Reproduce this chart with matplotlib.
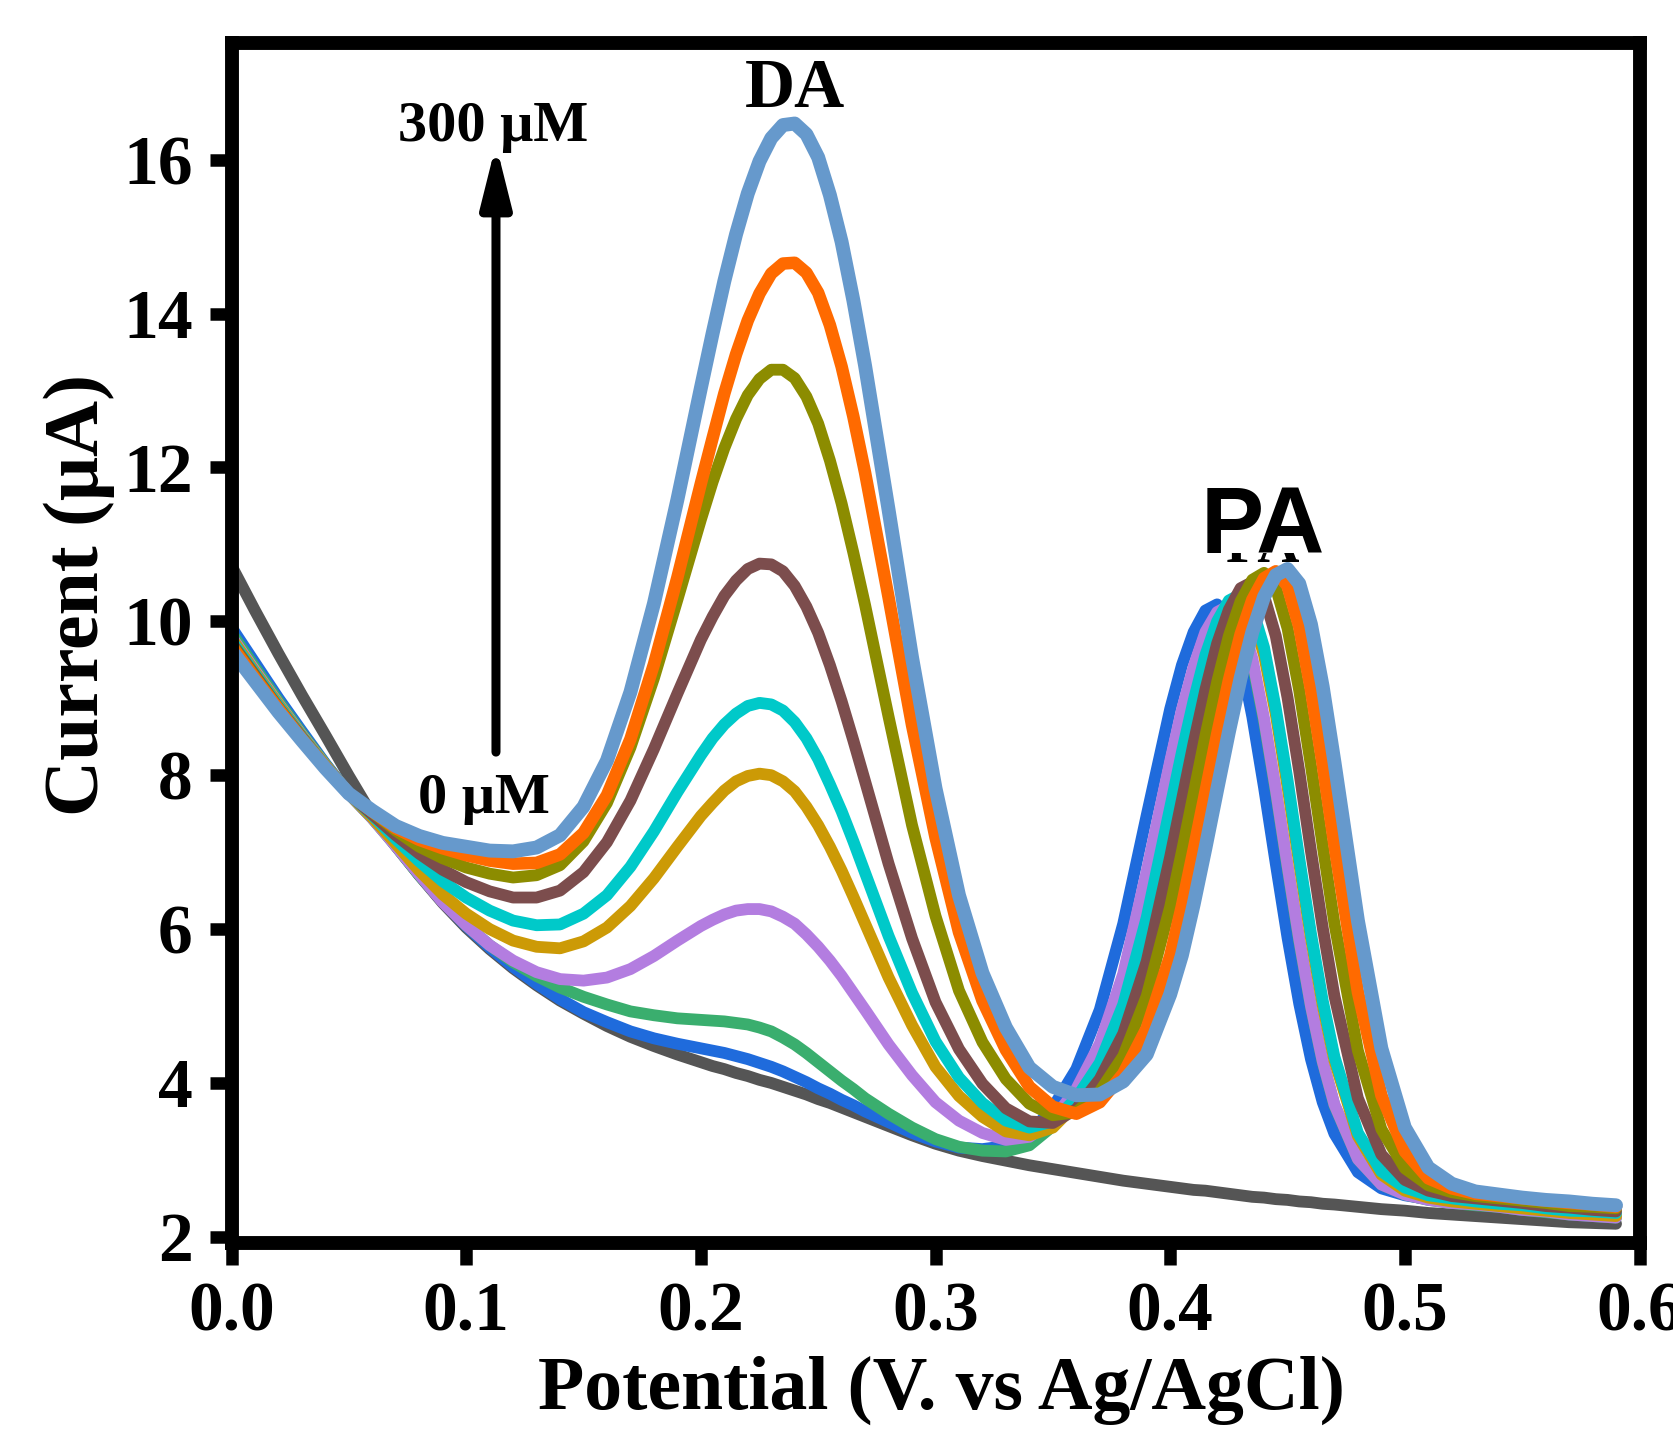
import matplotlib
matplotlib.use("Agg")
import matplotlib.pyplot as plt
from matplotlib.patches import Rectangle

# Sampled potential (V vs Ag/AgCl); finer sampling across the two peak tops
potential = [0.00, 0.01, 0.02, 0.03, 0.04, 0.05, 0.06, 0.07, 0.08, 0.09,
             0.10, 0.11, 0.12, 0.13, 0.14, 0.15, 0.16, 0.17, 0.18, 0.19,
             0.20, 0.205, 0.21, 0.215, 0.22, 0.225, 0.23, 0.235, 0.24, 0.245,
             0.25, 0.255, 0.26, 0.265, 0.27, 0.28, 0.29, 0.30, 0.31, 0.32,
             0.33, 0.34, 0.35, 0.36, 0.37, 0.38, 0.39, 0.40, 0.405, 0.41,
             0.415, 0.42, 0.425, 0.43, 0.435, 0.44, 0.445, 0.45, 0.455, 0.46,
             0.465, 0.47, 0.48, 0.49, 0.50, 0.51, 0.52, 0.53, 0.54, 0.55,
             0.56, 0.57, 0.58, 0.59]

# DPV currents (uA), from blank up to the highest DA addition
i_blank = [10.72, 10.14, 9.58, 9.04, 8.52, 7.99, 7.48, 7.08, 6.70, 6.34,
           6.02, 5.74, 5.49, 5.27, 5.07, 4.90, 4.74, 4.60, 4.48, 4.37,
           4.27, 4.22, 4.18, 4.13, 4.09, 4.04, 4.00, 3.95, 3.90, 3.85,
           3.79, 3.74, 3.68, 3.62, 3.56, 3.44, 3.32, 3.21, 3.12, 3.05,
           2.99, 2.93, 2.88, 2.83, 2.78, 2.73, 2.69, 2.65, 2.63, 2.61,
           2.60, 2.58, 2.56, 2.54, 2.52, 2.51, 2.49, 2.48, 2.46, 2.45,
           2.43, 2.42, 2.39, 2.36, 2.34, 2.31, 2.29, 2.27, 2.25, 2.23,
           2.21, 2.19, 2.18, 2.17]

i_pa = [9.92, 9.46, 9.00, 8.57, 8.15, 7.76, 7.44, 7.10, 6.72, 6.36,
        6.04, 5.76, 5.51, 5.29, 5.09, 4.92, 4.79, 4.67, 4.58, 4.51,
        4.45, 4.42, 4.39, 4.35, 4.31, 4.26, 4.21, 4.15, 4.08, 4.01,
        3.93, 3.86, 3.78, 3.71, 3.63, 3.49, 3.35, 3.24, 3.16, 3.14,
        3.18, 3.34, 3.68, 4.18, 4.95, 6.07, 7.48, 8.86, 9.43, 9.86,
        10.14, 10.22, 10.04, 9.53, 8.76, 7.84, 6.85, 5.89, 5.03, 4.31,
        3.75, 3.34, 2.84, 2.63, 2.54, 2.49, 2.46, 2.43, 2.40, 2.36,
        2.34, 2.31, 2.29, 2.27]

i_da1 = [9.85, 9.40, 8.96, 8.54, 8.14, 7.76, 7.44, 7.08, 6.70, 6.36,
         6.05, 5.79, 5.57, 5.39, 5.24, 5.12, 5.02, 4.93, 4.88, 4.84,
         4.82, 4.81, 4.80, 4.78, 4.76, 4.72, 4.67, 4.59, 4.50, 4.39,
         4.27, 4.15, 4.03, 3.92, 3.80, 3.60, 3.42, 3.27, 3.17, 3.12,
         3.11, 3.19, 3.44, 3.86, 4.47, 5.38, 6.71, 8.13, 8.79, 9.37,
         9.80, 10.07, 10.15, 9.97, 9.47, 8.70, 7.79, 6.80, 5.84, 4.99,
         4.27, 3.71, 3.01, 2.68, 2.55, 2.48, 2.44, 2.41, 2.39, 2.35,
         2.32, 2.29, 2.27, 2.25]

i_da2 = [9.80, 9.36, 8.93, 8.52, 8.13, 7.76, 7.44, 7.08, 6.71, 6.35,
         6.05, 5.79, 5.59, 5.44, 5.35, 5.33, 5.37, 5.48, 5.65, 5.85,
         6.04, 6.12, 6.19, 6.24, 6.26, 6.26, 6.23, 6.16, 6.07, 5.93,
         5.77, 5.59, 5.39, 5.17, 4.95, 4.50, 4.10, 3.75, 3.51, 3.35,
         3.26, 3.30, 3.52, 3.92, 4.51, 5.42, 6.75, 8.18, 8.85, 9.41,
         9.86, 10.12, 10.20, 10.02, 9.52, 8.74, 7.82, 6.83, 5.87, 5.00,
         4.28, 3.72, 3.01, 2.68, 2.55, 2.48, 2.44, 2.42, 2.39, 2.35,
         2.33, 2.29, 2.27, 2.25]

i_da3 = [9.78, 9.34, 8.92, 8.51, 8.13, 7.76, 7.45, 7.11, 6.76, 6.45,
         6.20, 6.00, 5.85, 5.77, 5.75, 5.84, 6.02, 6.30, 6.66, 7.07,
         7.47, 7.64, 7.80, 7.92, 7.99, 8.02, 8.00, 7.92, 7.79, 7.59,
         7.35, 7.07, 6.76, 6.42, 6.07, 5.37, 4.75, 4.21, 3.83, 3.56,
         3.37, 3.32, 3.42, 3.73, 4.20, 4.96, 6.08, 7.50, 8.21, 8.88,
         9.47, 9.90, 10.17, 10.25, 10.07, 9.56, 8.79, 7.85, 6.85, 5.88,
         5.01, 4.29, 3.31, 2.81, 2.60, 2.51, 2.46, 2.43, 2.40, 2.37,
         2.34, 2.31, 2.29, 2.27]

i_da4 = [9.75, 9.32, 8.90, 8.50, 8.12, 7.76, 7.48, 7.17, 6.88, 6.62,
         6.41, 6.24, 6.11, 6.05, 6.06, 6.20, 6.44, 6.81, 7.27, 7.78,
         8.26, 8.48, 8.66, 8.80, 8.90, 8.94, 8.92, 8.84, 8.69, 8.48,
         8.21, 7.88, 7.53, 7.14, 6.73, 5.91, 5.17, 4.54, 4.07, 3.74,
         3.51, 3.42, 3.50, 3.80, 4.26, 5.02, 6.15, 7.58, 8.30, 8.97,
         9.56, 10.00, 10.27, 10.35, 10.17, 9.66, 8.87, 7.94, 6.92, 5.94,
         5.07, 4.34, 3.35, 2.85, 2.64, 2.54, 2.50, 2.46, 2.43, 2.41,
         2.37, 2.34, 2.33, 2.31]

i_da5 = [9.72, 9.30, 8.88, 8.49, 8.11, 7.76, 7.49, 7.22, 6.98, 6.77,
         6.61, 6.49, 6.41, 6.41, 6.50, 6.74, 7.13, 7.67, 8.34, 9.06,
         9.76, 10.06, 10.33, 10.53, 10.68, 10.75, 10.74, 10.65, 10.46, 10.19,
         9.85, 9.43, 8.96, 8.45, 7.92, 6.85, 5.88, 5.05, 4.44, 3.99,
         3.67, 3.50, 3.48, 3.66, 4.05, 4.64, 5.58, 6.94, 7.68, 8.42,
         9.11, 9.71, 10.15, 10.43, 10.51, 10.33, 9.81, 9.01, 8.05, 7.01,
         6.02, 5.13, 3.80, 3.07, 2.74, 2.60, 2.53, 2.50, 2.47, 2.44,
         2.40, 2.38, 2.35, 2.33]

i_da6 = [9.70, 9.28, 8.87, 8.48, 8.11, 7.76, 7.52, 7.28, 7.07, 6.92,
         6.80, 6.72, 6.67, 6.70, 6.83, 7.14, 7.64, 8.36, 9.26, 10.28,
         11.32, 11.81, 12.25, 12.63, 12.94, 13.15, 13.27, 13.27, 13.16, 12.92,
         12.57, 12.09, 11.53, 10.89, 10.21, 8.76, 7.35, 6.17, 5.20, 4.53,
         4.05, 3.73, 3.58, 3.62, 3.89, 4.35, 5.13, 6.29, 7.01, 7.76,
         8.51, 9.21, 9.81, 10.26, 10.54, 10.63, 10.44, 9.91, 9.10, 8.12,
         7.08, 6.07, 4.42, 3.40, 2.89, 2.67, 2.58, 2.53, 2.50, 2.47,
         2.44, 2.40, 2.39, 2.37]

i_da7 = [9.68, 9.26, 8.86, 8.47, 8.11, 7.76, 7.53, 7.31, 7.16, 7.05,
         6.96, 6.89, 6.85, 6.86, 6.97, 7.25, 7.74, 8.47, 9.44, 10.57,
         11.79, 12.38, 12.96, 13.47, 13.91, 14.26, 14.52, 14.65, 14.66, 14.53,
         14.27, 13.85, 13.31, 12.66, 11.93, 10.31, 8.65, 7.19, 5.96, 5.07,
         4.43, 3.95, 3.69, 3.60, 3.75, 4.12, 4.71, 5.65, 6.30, 7.03,
         7.78, 8.53, 9.23, 9.83, 10.28, 10.56, 10.65, 10.46, 9.93, 9.11,
         8.14, 7.09, 5.18, 3.84, 3.11, 2.76, 2.63, 2.56, 2.53, 2.50,
         2.47, 2.44, 2.42, 2.39]

i_da8 = [9.62, 9.22, 8.82, 8.45, 8.09, 7.76, 7.54, 7.34, 7.21, 7.12,
         7.07, 7.02, 7.01, 7.06, 7.22, 7.59, 8.19, 9.08, 10.23, 11.58,
         13.03, 13.74, 14.42, 15.03, 15.56, 15.98, 16.28, 16.45, 16.47, 16.33,
         16.03, 15.54, 14.93, 14.17, 13.32, 11.45, 9.53, 7.83, 6.44, 5.43,
         4.72, 4.20, 3.95, 3.84, 3.85, 4.02, 4.37, 5.15, 5.66, 6.32,
         7.05, 7.81, 8.56, 9.26, 9.86, 10.32, 10.60, 10.68, 10.49, 9.96,
         9.15, 8.17, 6.11, 4.45, 3.42, 2.90, 2.69, 2.59, 2.55, 2.51,
         2.48, 2.46, 2.43, 2.41]

series = [i_blank, i_pa, i_da1, i_da2, i_da3, i_da4, i_da5, i_da6, i_da7, i_da8]
colors = ["#555555", "#1f6bdc", "#3aae6e", "#b37de0", "#cc9a06",
          "#00c9c9", "#7c4d4d", "#8c8c00", "#ff6a00", "#6699cc"]
widths = [8.5, 8.5, 8.5, 8.5, 8.5, 8.5, 8.5, 8.5, 9.0, 10.0]

xticks = [0.0, 0.1, 0.2, 0.3, 0.4, 0.5, 0.6]
xtick_labels = ["0.0", "0.1", "0.2", "0.3", "0.4", "0.5", "0.6"]
yticks = [2, 4, 6, 8, 10, 12, 14, 16]

serif = "Liberation Serif"

fig = plt.figure(figsize=(16.73, 14.31), dpi=100)
ax = fig.add_axes([0.13838, 0.13138, 0.84160, 0.83823])

for vals, col, lw in zip(series, colors, widths):
    ax.plot(potential, vals, color=col, lw=lw,
            solid_joinstyle="round", solid_capstyle="round")

ax.set_xlim(0, 0.6)
ax.set_ylim(1.92, 17.51)
for sp in ax.spines.values():
    sp.set_linewidth(10)

ax.set_xticks(xticks)
ax.set_xticklabels(xtick_labels)
ax.set_yticks(yticks)
ax.tick_params(direction="out", length=16, width=9, pad=12, labelsize=50)
for lab in ax.get_xticklabels() + ax.get_yticklabels():
    lab.set_fontfamily(serif)
    lab.set_fontweight("bold")

fig.text(941.5 / 1673, 1 - 1390 / 1431, "Potential (V. vs Ag/AgCl)",
         ha="center", va="center", fontsize=54.5, fontweight="bold", family=serif)
fig.text(79 / 1673, 1 - 595 / 1431, "Current (μA)", rotation=90,
         ha="center", va="center", fontsize=56, fontweight="bold", family=serif)

# Peak and concentration annotations
ax.text(0.240, 16.68, "DA", ha="center", va="baseline",
        fontsize=50, fontweight="bold", family=serif)
ax.text(0.1114, 16.24, "300 μM", ha="center", va="baseline",
        fontsize=42, fontweight="bold", family=serif)
ax.text(0.1076, 7.51, "0 μM", ha="center", va="baseline",
        fontsize=42, fontweight="bold", family=serif)
ax.annotate("", xy=(0.1127, 16.2), xytext=(0.1127, 8.30),
            arrowprops=dict(arrowstyle="-|>,head_length=3.6,head_width=0.9",
                            mutation_scale=10, lw=6.5, color="black",
                            shrinkA=0, shrinkB=0))

# Older serif label, mostly hidden under the sans-serif one
pa_under = ax.text(0.4393, 10.77, "PA", ha="center", va="baseline",
                   fontsize=42, fontweight="bold", family=serif)
pa_under.set_clip_path(Rectangle((0.38, 9.0), 0.12, 1.89, transform=ax.transData))
pa_under.set_clip_on(True)
ax.text(0.4395, 10.89, "PA", ha="center", va="baseline",
        fontsize=68, fontweight="bold", family="Liberation Sans")

fig.savefig("out.png", dpi=100)
